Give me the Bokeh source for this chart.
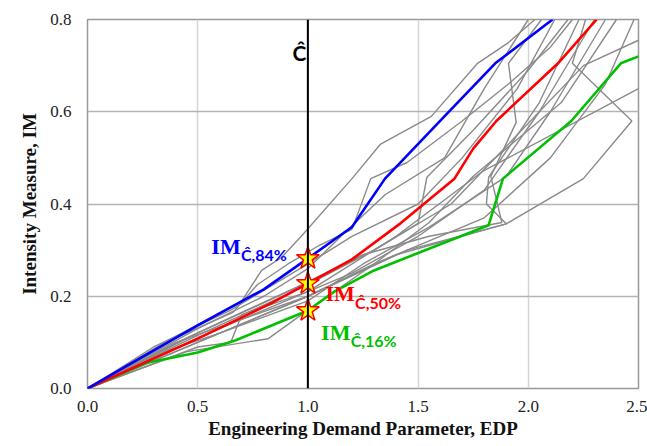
from bokeh.plotting import figure
from bokeh.embed import file_html
from bokeh.resources import INLINE
from bokeh.models import FixedTicker, Span, CustomJSTickFormatter
from bokeh.core.properties import value

# Individual IDA curves (EDP vs IM)
gray_edp = [
    [0, 0.35, 0.7, 0.79, 0.88, 0.97, 1.2, 1.33, 1.56, 1.77, 1.91, 2.03],
    [0, 0.4, 0.66, 0.77, 0.91, 1.05, 1.2, 1.285, 1.45, 1.7, 1.91, 2.1, 2.2],
    [0, 0.45, 0.95, 1.25, 1.55, 1.88, 1.83, 1.945, 1.91, 2.06],
    [0, 0.5, 1.0, 1.3, 1.5, 1.54, 1.75, 2.0, 2.18],
    [0, 0.5, 1.0, 1.4, 1.9, 2.25, 2.47, 2.2, 2.26],
    [0, 0.5, 1.0, 1.4, 1.79, 2.5],
    [0, 0.5, 1.0, 1.3, 1.65, 1.95, 2.25, 2.5],
    [0, 0.5, 1.0, 1.45, 1.9, 1.81, 1.82, 2.05, 2.23],
    [0, 0.45, 0.82, 1.0, 1.3, 1.8, 2.1, 2.35, 2.48],
    [0, 0.3, 0.65, 1.0, 1.2, 1.5, 1.7, 1.95, 2.12],
    [0, 0.35, 0.6, 1.0, 1.25, 1.55, 1.9, 2.1, 2.35],
    [0, 0.5, 0.8, 1.0, 1.15, 1.35, 1.62, 1.8, 2.0],
    [0, 0.4, 0.7, 1.0, 1.3, 1.55, 1.75, 2.15, 2.4],
    [0, 0.5, 0.65, 0.7, 1.0, 1.2, 1.5, 1.8, 2.05, 2.3],
]
gray_im = [
    [0, 0.1, 0.19, 0.256, 0.284, 0.33, 0.455, 0.53, 0.59, 0.705, 0.75, 0.8],
    [0, 0.11, 0.165, 0.225, 0.27, 0.31, 0.345, 0.455, 0.49, 0.58, 0.66, 0.74, 0.8],
    [0, 0.11, 0.22, 0.29, 0.33, 0.36, 0.46, 0.577, 0.705, 0.8],
    [0, 0.12, 0.23, 0.3, 0.358, 0.458, 0.56, 0.69, 0.8],
    [0, 0.1, 0.2, 0.29, 0.357, 0.455, 0.58, 0.705, 0.8],
    [0, 0.11, 0.21, 0.33, 0.47, 0.65],
    [0, 0.115, 0.225, 0.3, 0.4, 0.55, 0.7, 0.755],
    [0, 0.1, 0.2, 0.3, 0.357, 0.40, 0.458, 0.62, 0.8],
    [0, 0.08, 0.108, 0.17, 0.27, 0.37, 0.5, 0.66, 0.8],
    [0, 0.09, 0.17, 0.27, 0.33, 0.4, 0.5, 0.65, 0.8],
    [0, 0.08, 0.12, 0.19, 0.27, 0.35, 0.46, 0.6, 0.8],
    [0, 0.13, 0.2, 0.26, 0.33, 0.42, 0.5, 0.65, 0.8],
    [0, 0.1, 0.15, 0.2, 0.27, 0.36, 0.46, 0.62, 0.8],
    [0, 0.09, 0.1, 0.16, 0.21, 0.25, 0.33, 0.43, 0.6, 0.8],
]

# Fractile curves
p84_edp = [0, 0.2, 0.5, 0.8, 1.0, 1.2, 1.35, 1.6, 1.85, 2.11]
p84_im = [0, 0.055, 0.137, 0.215, 0.282, 0.35, 0.455, 0.58, 0.705, 0.8]
p50_edp = [0, 0.5, 0.83, 1.0, 1.2, 1.42, 1.665, 1.75, 1.855, 2.135, 2.31]
p50_im = [0, 0.108, 0.184, 0.228, 0.28, 0.358, 0.455, 0.52, 0.58, 0.705, 0.8]
p16_edp = [0, 0.27, 0.5, 0.67, 1.0, 1.12, 1.3, 1.82, 1.885, 2.195, 2.42, 2.5]
p16_im = [0, 0.056, 0.078, 0.104, 0.169, 0.21, 0.256, 0.354, 0.455, 0.58, 0.705, 0.72]

c_hat = 1.0
x_ticks = [0, 0.5, 1.0, 1.5, 2.0, 2.5]
y_ticks = [0, 0.2, 0.4, 0.6, 0.8]

BLUE = "#0000FF"
RED = "#FF0000"
GREEN = "#00C000"

p = figure(width=647, height=446, output_backend="svg", toolbar_location=None,
           x_range=(0, 2.5), y_range=(0, 0.8),
           min_border_left=87, min_border_right=9, min_border_top=19,
           min_border_bottom=58)

p.outline_line_color = "#999999"
p.outline_line_width = 1.5

p.xgrid.ticker = FixedTicker(ticks=x_ticks)
p.ygrid.ticker = FixedTicker(ticks=y_ticks)
p.xgrid.grid_line_color = "#d4d4d4"
p.ygrid.grid_line_color = "#b4b4b4"
p.xgrid.grid_line_width = 1.5
p.ygrid.grid_line_width = 1.5

fmt = CustomJSTickFormatter(code="return tick.toFixed(1);")
for ax, ticks in ((p.xaxis, x_ticks), (p.yaxis, y_ticks)):
    ax.ticker = FixedTicker(ticks=ticks)
    ax.formatter = fmt
    ax.axis_line_color = None
    ax.major_tick_line_color = None
    ax.minor_tick_line_color = None
    ax.major_tick_out = 0
    ax.major_tick_in = 0
    ax.major_label_text_font = "Liberation Serif"
    ax.major_label_text_font_size = "17px"
    ax.major_label_text_color = "#222222"
    ax.axis_label_text_font = "Liberation Serif"
    ax.axis_label_text_font_style = "bold"
    ax.axis_label_text_font_size = "19px"
    ax.axis_label_text_color = "#111111"

p.xaxis.axis_label = "Engineering Demand Parameter, EDP"
p.yaxis.axis_label = "Intensity Measure, IM"
p.xaxis.major_label_standoff = 12
p.yaxis.major_label_standoff = 16
p.xaxis.axis_label_standoff = 3
p.yaxis.axis_label_standoff = 7

for xs, ys in zip(gray_edp, gray_im):
    p.line(xs, ys, line_color="#8a8a8a", line_width=1.4)

p.line(p16_edp, p16_im, line_color=GREEN, line_width=2.6)
p.line(p50_edp, p50_im, line_color=RED, line_width=2.6)
p.line(p84_edp, p84_im, line_color=BLUE, line_width=2.6)

p.add_layout(Span(location=c_hat, dimension="height", line_color="black",
                  line_width=2))

# IM values at the capacity Ĉ
im_at_c = [p84_im[p84_edp.index(c_hat)], p50_im[p50_edp.index(c_hat)],
           p16_im[p16_edp.index(c_hat)]]
p.scatter([c_hat] * 3, im_at_c, marker="star", size=24,
          fill_color="#FFFF00", line_color="#FF0000", line_width=1.5)

p.text([0.93], [0.728], text=["Ĉ"], text_font=value("Lato"),
       text_font_style="bold", text_font_size="21px", text_color="black",
       text_baseline="alphabetic")

labels = [
    (0.562, 0.308, 0.017, BLUE, "Ĉ,84%"),
    (1.08, 0.206, 0.019, RED, "Ĉ,50%"),
    (1.06, 0.121, 0.016, GREEN, "Ĉ,16%"),
]
for x0, y0, dy, col, sub in labels:
    p.text([x0], [y0], text=["IM"], text_font=value("Liberation Serif"),
           text_font_style="bold", text_font_size="22px", text_color=col,
           text_baseline="alphabetic")
    p.text([x0 + 0.134], [y0 - dy], text=[sub], text_font=value("Lato"),
           text_font_style="bold", text_font_size="16px", text_color=col,
           text_baseline="alphabetic")

open("out.html", "w").write(file_html(p, INLINE))
